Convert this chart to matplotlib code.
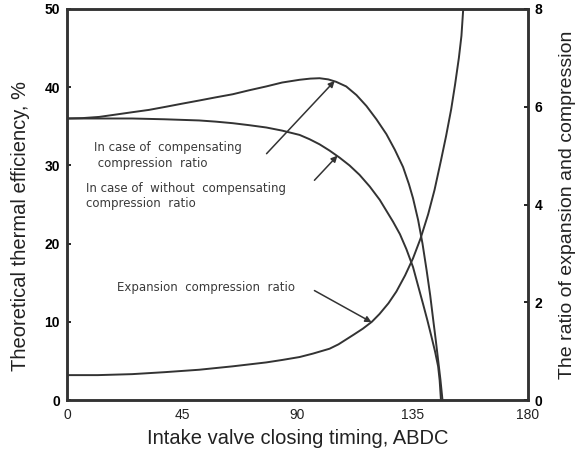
import matplotlib.pyplot as plt

# intake valve closing timing (deg ABDC) and thermal efficiency (%) for the two cases
comp_x = [0, 6, 12.5, 19, 25.4, 32, 38.6, 45, 51.6, 58, 64.7, 71, 77.8, 84, 90.8, 95,
          98.6, 102, 105, 109, 113, 116.9, 120.8, 124.7, 128, 131.2, 133.5, 135.1, 137.1,
          138.8, 140.4, 141.8, 143, 144, 144.9, 145.8, 146.6]
comp_eff = [36.0, 36.05, 36.2, 36.5, 36.8, 37.1, 37.5, 37.9, 38.3, 38.7, 39.1, 39.6, 40.1,
            40.6, 40.95, 41.1, 41.15, 41.0, 40.7, 40.1, 39.0, 37.6, 35.9, 34.0, 32.0, 29.8,
            27.6, 25.8, 23.0, 20.0, 16.6, 13.4, 10.2, 7.6, 5.1, 2.6, 0.0]

nocomp_x = [0, 12, 25.4, 38, 51.6, 58, 64.7, 71, 77.8, 84, 90.8, 94.7, 98.6, 102.5, 106.4,
            110.3, 114.2, 118.2, 122.1, 124.7, 127.3, 130, 132.5, 135.1, 137, 139, 140.7,
            142.3, 143.7, 144.9, 145.5, 146.0]
nocomp_eff = [36.0, 36.0, 36.0, 35.9, 35.75, 35.6, 35.4, 35.15, 34.85, 34.45, 33.9, 33.35,
              32.7, 31.9, 31.0, 30.0, 28.8, 27.3, 25.6, 24.2, 22.8, 21.2, 19.3, 17.0, 14.7,
              12.3, 10.2, 8.1, 6.2, 4.3, 2.5, 0.0]

# ratio of expansion and compression (right axis)
ratio_x = [0, 12, 25.4, 38, 51.6, 64.7, 77.8, 84, 90.8, 96, 102.5, 106, 109, 112, 115.5,
           119, 122, 125.5, 128.6, 132, 135.1, 138, 141, 143.5, 146, 148, 150, 151.5, 153,
           154, 154.7]
ratio_val = [0.51, 0.51, 0.53, 0.57, 0.62, 0.69, 0.77, 0.82, 0.88, 0.95, 1.05, 1.14, 1.24,
             1.34, 1.46, 1.6, 1.76, 1.98, 2.22, 2.55, 2.9, 3.3, 3.8, 4.3, 4.9, 5.4, 5.95,
             6.45, 7.0, 7.45, 8.0]

x_ticks = [0, 45, 90, 135, 180]
left_ticks = [0, 10, 20, 30, 40, 50]
right_ticks = [0, 2, 4, 6, 8]

line_col = '#333333'
plt.rcParams['font.family'] = ['Liberation Sans', 'DejaVu Sans']

fig = plt.figure(figsize=(5.88, 4.5), dpi=100)
ax = fig.add_axes([0.114, 0.111, 0.784, 0.869])
ax2 = ax.twinx()

ax.plot(comp_x, comp_eff, color=line_col, lw=1.4)
ax.plot(nocomp_x, nocomp_eff, color=line_col, lw=1.4)
ax2.plot(ratio_x, ratio_val, color=line_col, lw=1.4)

ax.set_xlim(0, 180)
ax.set_ylim(0, 50)
ax2.set_ylim(0, 8)
ax.set_xticks(x_ticks)
ax.set_yticks(left_ticks)
ax2.set_yticks(right_ticks)

for a in (ax, ax2):
    for s in a.spines.values():
        s.set_linewidth(1.8)
        s.set_color(line_col)
ax.tick_params(axis='x', length=0, labelsize=10, pad=6, colors='#222222')
ax.tick_params(axis='y', direction='in', length=3, width=1.2, labelsize=10, pad=5)
ax2.tick_params(axis='y', direction='in', length=3, width=1.2, labelsize=10, pad=5)
for lab in ax.get_yticklabels() + ax2.get_yticklabels():
    lab.set_fontweight('bold')

ax.set_xlabel('Intake valve closing timing, ABDC', fontsize=14.5, labelpad=5, color='#222222')
ax.set_ylabel('Theoretical thermal efficiency, %', fontsize=14.5, color='#222222')
ax.yaxis.set_label_coords(-0.08, 0.445)
ax2.set_ylabel('The ratio of expansion and compression', fontsize=14, labelpad=12, color='#222222')

arrow = dict(arrowstyle='-|>', color=line_col, lw=1.1, mutation_scale=9, shrinkA=0, shrinkB=0)
ax.annotate('', xy=(104.5, 40.8), xytext=(77.9, 31.5), arrowprops=arrow)
ax.annotate('', xy=(105.6, 31.25), xytext=(96.6, 28.1), arrowprops=arrow)
ax.annotate('', xy=(118.9, 9.95), xytext=(96.6, 14.0), arrowprops=arrow)

txt = dict(fontsize=8.5, color='#3a3a3a', family='DejaVu Sans', linespacing=1.25)
ax.text(10.6, 31.25, 'In case of  compensating\n compression  ratio', va='center', ha='left', **txt)
ax.text(7.4, 26.1, 'In case of  without  compensating\ncompression  ratio', va='center', ha='left', **txt)
ax.text(19.6, 14.4, 'Expansion  compression  ratio', va='center', ha='left', **txt)

fig.savefig('out.png', dpi=100)
